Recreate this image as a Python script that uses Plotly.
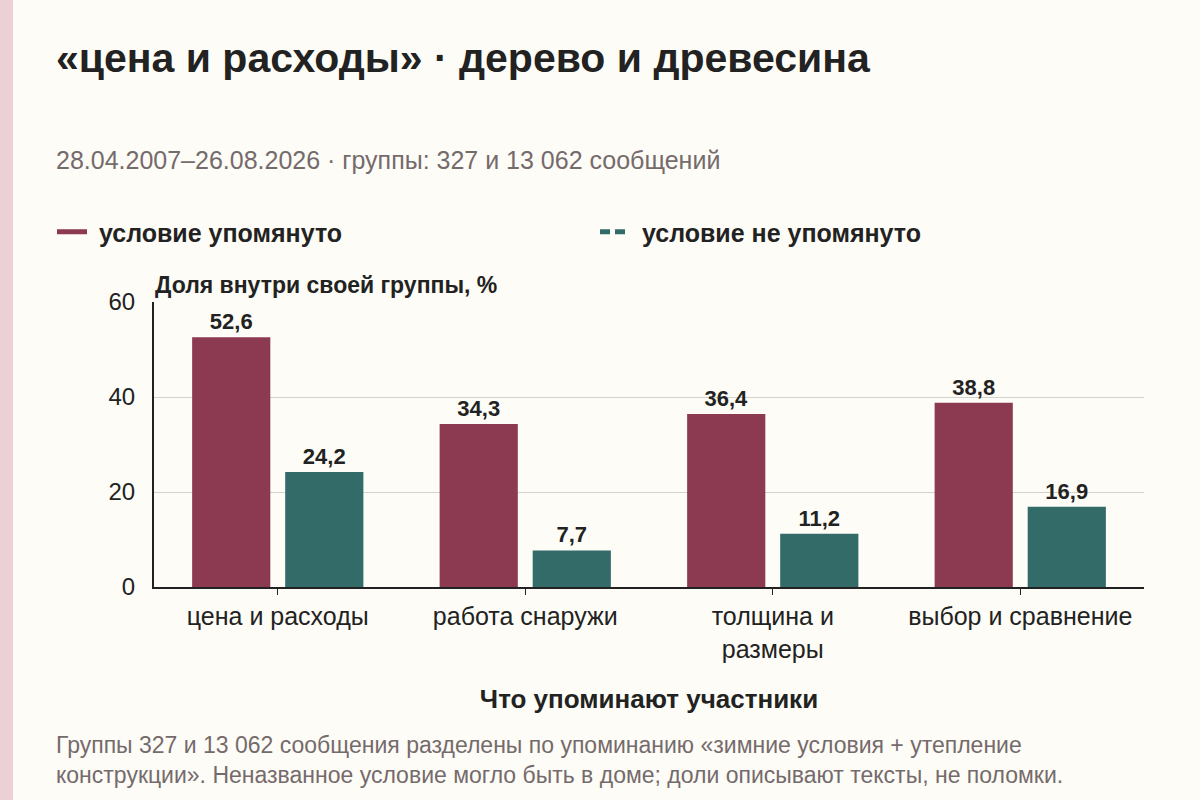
import plotly.graph_objects as go

# данные
categories = ["цена и расходы", "работа снаружи", "толщина и<br>размеры", "выбор и сравнение"]
mentioned = [52.6, 34.3, 36.4, 38.8]
not_mentioned = [24.2, 7.7, 11.2, 16.9]
series_names = ["условие упомянуто", "условие не упомянуто"]
y_ticks = [0, 20, 40, 60]

title = "«цена и расходы» · дерево и древесина"
subtitle = "28.04.2007–26.08.2026 · группы: 327 и 13 062 сообщений"
y_title = "Доля внутри своей группы, %"
x_title = "Что упоминают участники"
note = ("Группы 327 и 13 062 сообщения разделены по упоминанию «зимние условия + утепление<br>"
        "конструкции». Неназванное условие могло быть в доме; доли описывают тексты, не поломки.")

MAROON = "#8b3a52"
TEAL = "#336b69"
BG = "#fdfcf6"
FONT = "Liberation Sans, Arial, sans-serif"

W, H = 1200, 800
L, R, T, B = 154, 56, 302, 213


def px(x, y):
    # пиксели -> координаты paper
    return (x - L) / (W - L - R), (H - B - y) / (H - T - B)


def fmt(v):
    return f"{v:.1f}".replace(".", ",")


fig = go.Figure()

for vals, color, name in [(mentioned, MAROON, series_names[0]), (not_mentioned, TEAL, series_names[1])]:
    fig.add_trace(go.Bar(
        x=categories, y=vals, name=name, marker=dict(color=color, line_width=0),
        text=[fmt(v) for v in vals], textposition="outside", cliponaxis=False,
        textfont=dict(family=FONT, size=22, color="#222222", weight="bold"),
        showlegend=False, hoverinfo="skip",
    ))

# легенда линиями, каждая запись в своей легенде
for color, dash, name, lg in [(MAROON, "solid", series_names[0], "legend"),
                              (TEAL, "10px,5px", series_names[1], "legend2")]:
    fig.add_trace(go.Scatter(
        x=[None], y=[None], mode="lines", name="\u00a0" + name, legend=lg,
        line=dict(color=color, width=5, dash=dash),
    ))

annotations = []
ax, ay = px(54, 58)
annotations.append(dict(x=ax, y=ay, text=f"<b>{title}</b>", xanchor="left", yanchor="middle",
                        font=dict(family=FONT, size=41, color="#222222")))
ax, ay = px(54, 160)
annotations.append(dict(x=ax, y=ay, text=subtitle, xanchor="left", yanchor="middle",
                        font=dict(family=FONT, size=25, color="#756a6c")))
ax, ay = px(153, 285)
annotations.append(dict(x=ax, y=ay, text=f"<b>{y_title}</b>", xanchor="left", yanchor="middle",
                        font=dict(family=FONT, size=23, color="#222222")))
ax, ay = px(54, 760)
annotations.append(dict(x=ax, y=ay, text=note, xanchor="left", yanchor="middle", align="left",
                        font=dict(family=FONT, size=23, color="#756a6c")))
for a in annotations:
    a.update(xref="paper", yref="paper", showarrow=False)

x0, y0 = px(0, 0)
x1, y1 = px(13, H)

legend_style = dict(orientation="h", xref="container", yref="container",
                    y=1 - 232 / H, xanchor="left", yanchor="middle", itemwidth=30,
                    font=dict(family=FONT, size=25, color="#222222", weight="bold"),
                    bgcolor="rgba(0,0,0,0)")

fig.update_layout(
    width=W, height=H,
    margin=dict(l=L, r=R, t=T, b=B),
    paper_bgcolor=BG, plot_bgcolor=BG,
    font=dict(family=FONT, color="#222222"),
    barmode="group", bargap=0.248, bargroupgap=0.16,
    annotations=annotations,
    shapes=[dict(type="rect", xref="paper", yref="paper", x0=x0, x1=x1, y0=y1, y1=y0,
                 fillcolor="#ebd0d5", line_width=0, layer="below")],
    legend=dict(x=52 / W, **legend_style),
    legend2=dict(x=595 / W, **legend_style),
    xaxis=dict(
        showline=True, linecolor="#222222", linewidth=2,
        ticks="outside", ticklen=6, tickcolor="#222222",
        tickfont=dict(size=25, color="#222222"),
        title=dict(text=f"<b>{x_title}</b>", font=dict(size=26, color="#222222"), standoff=28),
    ),
    yaxis=dict(
        range=[0, 60], tickvals=y_ticks, showline=True, linecolor="#222222", linewidth=2,
        showgrid=True, gridcolor="#d5d2cc", gridwidth=1, zeroline=False,
        tickfont=dict(size=24, color="#222222"), ticklabelstandoff=12,
    ),
)

fig.write_html("out.html", config={"displayModeBar": False},
               post_script="document.body.style.margin='0';")
